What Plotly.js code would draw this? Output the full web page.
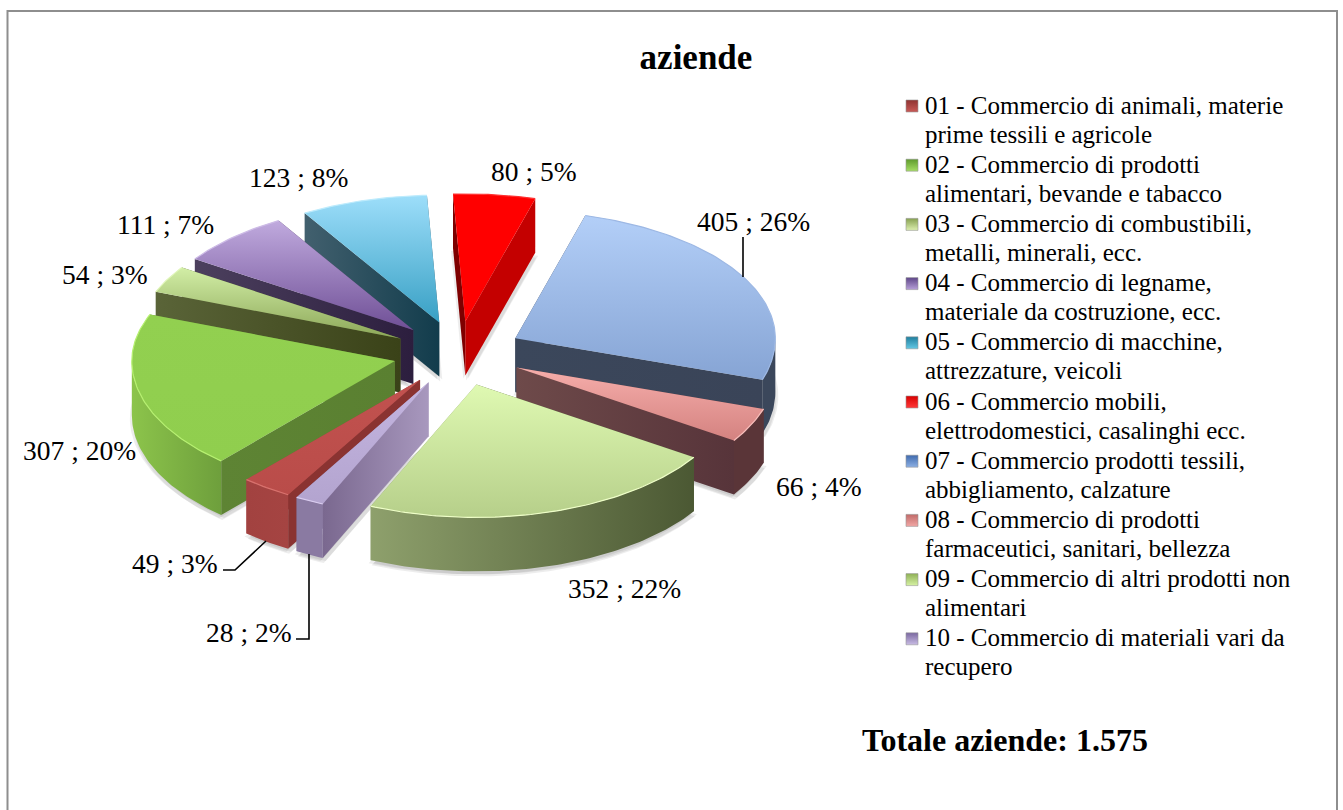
<!DOCTYPE html>
<html><head><meta charset="utf-8">
<script src="https://cdn.plot.ly/plotly-3.0.1.min.js"></script>
<style>html,body{margin:0;padding:0;background:#fff;overflow:hidden}</style>
</head><body><div id="chart" style="width:1343px;height:810px"></div>
<script>
// ---- data (legend order) ----
const codes = ["01","02","03","04","05","06","07","08","09","10"];
const categories = [
 "01 - Commercio di animali, materie<br>prime tessili e agricole",
 "02 - Commercio di prodotti<br>alimentari, bevande e tabacco",
 "03 - Commercio di combustibili,<br>metalli, minerali, ecc.",
 "04 - Commercio di legname,<br>materiale da costruzione, ecc.",
 "05 - Commercio di macchine,<br>attrezzature, veicoli",
 "06 - Commercio mobili,<br>elettrodomestici, casalinghi ecc.",
 "07 - Commercio prodotti tessili,<br>abbigliamento, calzature",
 "08 - Commercio di prodotti<br>farmaceutici, sanitari, bellezza",
 "09 - Commercio di altri prodotti non<br>alimentari",
 "10 - Commercio di materiali vari da<br>recupero"
];
const values   = [49, 307, 54, 111, 123, 80, 405, 66, 352, 28];
const percents = [3, 20, 3, 7, 8, 5, 26, 4, 22, 2];
const titleText = "aziende";
const totalText = "Totale aziende: 1.575";

// ---- styles ----
const FONT = "'Liberation Serif', serif";
// top surfaces: [upper colour, lower colour]
const topCol = [["#C2524F","#B94C49"],["#92D050","#90CE4E"],["#D2EEA6","#8CA758"],["#C0AADE","#6F4F96"],["#9DDEFA","#38A0C4"],
                ["#FF0000","#FF0000"],["#B3CFF8","#86A4D4"],["#F6AEAB","#D48280"],["#DFF9B2","#B6CF8A"],["#C4B5E0","#B3A4CF"]];
const cutA = [["#8A3331","#8A3331"],["#5E8434","#5A8031"],["#5A6438","#3A4218"],["#4C405E","#2C1E3E"],["#42606E","#123C4C"],
              ["#7E0000","#7E0000"],["#3B475B","#3A4458"],["#6E4A4A","#57343A"],["#4C5934","#4C5934"],["#7A688F","#A898BE"]];
const cutB = [["#A24240","#A24240"],["#5E8434","#5A8031"],["#5A6438","#5A6438"],["#4C405E","#4C405E"],["#42606E","#42606E"],
              ["#C40000","#C40000"],["#3B475B","#3A4458"],["#6E4A4A","#57343A"],["#8C9E6A","#8C9E6A"],["#7A688F","#A898BE"]];
const wallCol = [["#A24240","#A54442"],["#8CC44B","#6E9F3C"],["#5A6438","#5A6438"],["#4C405E","#4C405E"],["#42606E","#42606E"],
                 ["#C40000","#C40000"],["#3B475B","#3B475B"],["#5A3538","#5A3538"],["#8EA06C","#4B5833"],["#8A7AA2","#8A7AA2"]];
const edgeCol = ["#D8726E","#B6F070","#DFF5B8","#CDBBE6","#BDEBFC","#FF3030","#9DB8E4","#F7BDBA","#EFFFC8","#DACDF0"];
const swatch = [["#C95A57","#8E3331"],["#A6DE64","#5E9A2C"],["#DDEFB0","#86A050"],["#B7A0D8","#5E4688"],["#64C8E4","#1F7E9E"],
                ["#FF3A3A","#D80000"],["#8DB0E4","#3F6AAE"],["#F2A8A6","#C06A68"],["#D6F2A4","#8FB056"],["#C9BCE4","#7A68A0"]];

// ---- pie geometry (px of the page) ----
const CX=458, CY=353.5, RX=260, RY=129, RX_LEFT=263, RY_BACK=127.5, RY_FRONT=133, DEPTH=54, EXPLODE=0.25, START=15.6;
const drawOrder = [5,4,3,2,6,7,1,0,9,8];           // back to front
const sliceSeq  = [6,7,8,9,0,1,2,3,4,5];           // clockwise from START
const labelPos = {0:[175,563],1:[79,450],2:[105,274],3:[165,224],4:[298,177],5:[534,171],6:[753,221],7:[819,486],8:[624,588],9:[248.5,632]};

const total = values.reduce((a,b)=>a+b,0);
const rad = d=>d*Math.PI/180;
const angles = {};
let acc = START;
sliceSeq.forEach(i=>{ const sw = values[i]/total*360; angles[i]=[acc,acc+sw]; acc+=sw; });

function poly(pts, fill, extra){
  const t = {x:pts.map(p=>p[0]).concat(pts[0][0]), y:pts.map(p=>p[1]).concat(pts[0][1]),
    type:"scatter", mode:"lines", fill:"toself", line:{width:0,color:"rgba(0,0,0,0)"}, hoverinfo:"skip", showlegend:false};
  if (Array.isArray(fill)) {
    t.fillgradient = {type:fill[2]||"vertical", colorscale:[[0,fill[0]],[1,fill[1]]]};
  } else t.fillcolor = fill;
  return Object.assign(t, extra||{});
}
const traces = [];
drawOrder.forEach(i=>{
  const [a1,a2] = angles[i];
  const mid = rad((a1+a2)/2);
  const ax = CX + EXPLODE*RX*Math.sin(mid), ay = CY - EXPLODE*RY*Math.cos(mid);
  const rim = d => { const s=Math.sin(rad(d)), c=Math.cos(rad(d));
    return [ax+(s<0?RX_LEFT:RX)*s, ay-(c>0?RY_BACK:RY_FRONT)*c]; };
  const down = (p,h) => [p[0],p[1]+(h===undefined?DEPTH:h)];
  const arc = (s,e) => { const out=[]; const n=Math.max(2,Math.ceil(Math.abs(e-s)));
    for(let k=0;k<=n;k++) out.push(rim(s+(e-s)*k/n)); return out; };
  const apex=[ax,ay];
  // soft shadow of the footprint
  const foot=[apex].concat(arc(a1,a2)).map(p=>down(p));
  [[3,3],[-2,3],[1,5]].forEach(o=>traces.push(poly(foot.map(p=>[p[0]+o[0],p[1]+o[1]]),"rgba(0,0,0,0.07)")));
  // cut faces: the one that faces the viewer goes last
  const rimA=rim(a1), rimB=rim(a2);
  const faceA=poly([apex,rimA,down(rimA),down(apex)],[cutA[i][0],cutA[i][1],"horizontal"]);
  const faceB=poly([apex,rimB,down(rimB),down(apex)],[cutB[i][0],cutB[i][1],"horizontal"]);
  const m=((a1+a2)/2)%360;
  if(m>180){traces.push(faceB,faceA);} else {traces.push(faceA,faceB);}
  // outer wall, front-facing part only
  let segs=[];
  [[90,270],[450,630]].forEach(w=>{ const s=Math.max(a1,w[0]), e=Math.min(a2,w[1]); if(e>s) segs.push([s,e]); });
  segs.forEach(sg=>{
    const up=arc(sg[0],sg[1]);
    const lo=up.map(p=>down(p)).reverse();
    const wc=wallCol[i];
    traces.push(poly(up.concat(lo),[wc[0],wc[1],"horizontal"]));
  });
  // top surface (the y axis runs downward, so the colour stops are read bottom-up)
  traces.push(poly([apex].concat(arc(a1,a2)),[topCol[i][1],topCol[i][0],"vertical"],{name:categories[i]}));
  // light rim on the top edge
  const ra=arc(a1,a2);
  traces.push({x:ra.map(p=>p[0]),y:ra.map(p=>p[1]),type:"scatter",mode:"lines",line:{width:1.2,color:edgeCol[i]},hoverinfo:"skip",showlegend:false});
});

// leader lines
const leaderX = [[743,743],[223,235,266],[296,309,309]];
const leaderY = [[237,277],[570,570,541],[639,639,554]];
leaderX.forEach((lx,k)=>traces.push({x:lx,y:leaderY[k],type:"scatter",mode:"lines",line:{width:1.6,color:"#000"},hoverinfo:"skip",showlegend:false}));

// legend swatches + text
const LEG_X=912, LEG_Y0=105, LEG_STEP=59.2, LEG_LINE=29;
codes.forEach((c,i)=>traces.push({x:[LEG_X],y:[LEG_Y0+1+i*LEG_STEP],type:"scatter",mode:"markers",
  marker:{symbol:"square",size:12,color:swatch[i][1],gradient:{type:"vertical",color:swatch[i][0]},line:{width:0.6,color:"#999"}},
  hoverinfo:"skip",showlegend:false}));

const ann=[];
codes.forEach((c,i)=>categories[i].split("<br>").forEach((ln,j)=>ann.push({x:923,y:LEG_Y0+i*LEG_STEP+j*LEG_LINE,xref:"x",yref:"y",xanchor:"left",yanchor:"middle",align:"left",showarrow:false,
  text:ln,font:{family:FONT,size:25,color:"#000"}})));
codes.forEach((c,i)=>ann.push({x:labelPos[i][0],y:labelPos[i][1],xref:"x",yref:"y",xanchor:"center",yanchor:"middle",showarrow:false,
  text:values[i]+" ; "+percents[i]+"%",font:{family:FONT,size:27.5,color:"#000"}}));
ann.push({x:1005,y:740,xref:"x",yref:"y",xanchor:"center",yanchor:"middle",showarrow:false,
  text:"<b>"+totalText+"</b>",font:{family:FONT,size:32,color:"#000"}});

const layout={
  width:1343,height:810,margin:{l:0,r:0,t:0,b:0,pad:0},paper_bgcolor:"#fff",plot_bgcolor:"#fff",showlegend:false,
  title:{text:"<b>"+titleText+"</b>",x:696/1343,y:1-57/810,xanchor:"center",yanchor:"middle",font:{family:FONT,size:35,color:"#000"}},
  xaxis:{range:[0,1343],visible:false,fixedrange:true},
  yaxis:{range:[810,0],visible:false,fixedrange:true},
  annotations:ann,
  shapes:[{type:"path",xref:"x",yref:"y",path:"M7.5,812 L7.5,11 L1337,11 L1337,812",line:{color:"#8E8E8E",width:2}}]
};
Plotly.newPlot("chart",traces,layout,{displayModeBar:false,staticPlot:true});
</script></body></html>
